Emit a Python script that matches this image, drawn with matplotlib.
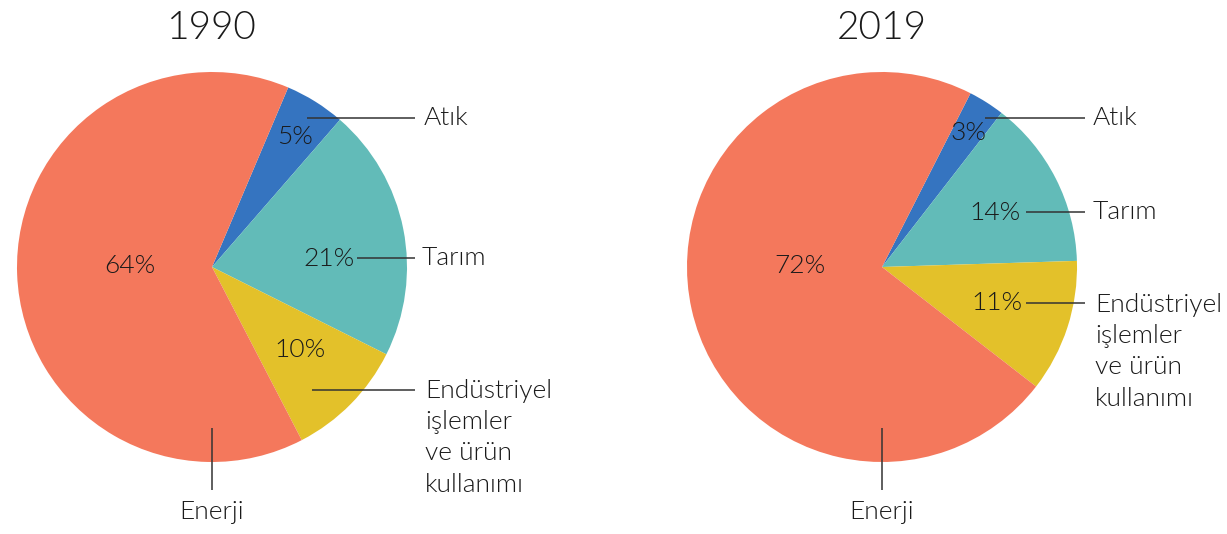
import matplotlib
matplotlib.use('Agg')
import matplotlib.pyplot as plt

plt.rcParams['font.family'] = ['Lato', 'DejaVu Sans']

categories = ['Atık', 'Tarım', 'Endüstriyel\nişlemler\nve ürün\nkullanımı', 'Enerji']
values_1990 = [5, 21, 10, 64]
values_2019 = [3, 14, 11, 72]
years = ['1990', '2019']
colors = ['#3574C0', '#62BBB8', '#E3C12A', '#F4785C']

W, H = 1227, 534
TXT = '#1a1a1a'
FW = 300
fig = plt.figure(figsize=(W / 100, H / 100), dpi=100)
ax = fig.add_axes([0, 0, 1, 1])

def drawPie(cx, vals, year, startangle, pct_pos, lines, label_pos):
  # y axis is flipped later, so angles are mirrored here
  ax.pie(vals, colors=colors, startangle=-startangle, counterclock=True,
         center=(cx, 267), radius=195, frame=True,
         wedgeprops=dict(linewidth=0))
  ax.text(cx, 28, year, ha='center', va='center', fontsize=28, fontweight=FW, color=TXT)
  for v, (px, py) in zip(vals, pct_pos):
    ax.text(px, py, '%d%%' % v, ha='center', va='center', fontsize=19, fontweight=FW, color=TXT)
  for (x0, y0, x1, y1) in lines:
    ax.plot([x0, x1], [y0, y1], color='#333333', lw=1.1, solid_capstyle='butt')
  for cat, (px, py, ha, va) in zip(categories, label_pos):
    ax.text(px, py, cat, ha=ha, va=va, fontsize=19, fontweight=FW, color=TXT, linespacing=1.38)

drawPie(212, values_1990, years[0], 67,
        [(295, 137), (329, 259), (300, 350), (130, 266)],
        [(307, 118, 415, 118), (357, 258, 415, 258), (312, 390, 415, 390), (212, 428, 212, 490)],
        [(424, 118, 'left', 'center'), (422, 258, 'left', 'center'), (425, 379, 'left', 'top'), (212, 512, 'center', 'center')])

drawPie(882, values_2019, years[1], 63,
        [(968, 133), (995, 213), (997, 303), (800, 266)],
        [(985, 118, 1085, 118), (1026, 212, 1085, 212), (1026, 303, 1085, 303), (882, 428, 882, 490)],
        [(1093, 118, 'left', 'center'), (1093, 212, 'left', 'center'), (1095, 293, 'left', 'top'), (882, 512, 'center', 'center')])

ax.set_xlim(0, W)
ax.set_ylim(H, 0)
ax.set_aspect('auto')
ax.axis('off')

fig.savefig('out.png', dpi=100)
